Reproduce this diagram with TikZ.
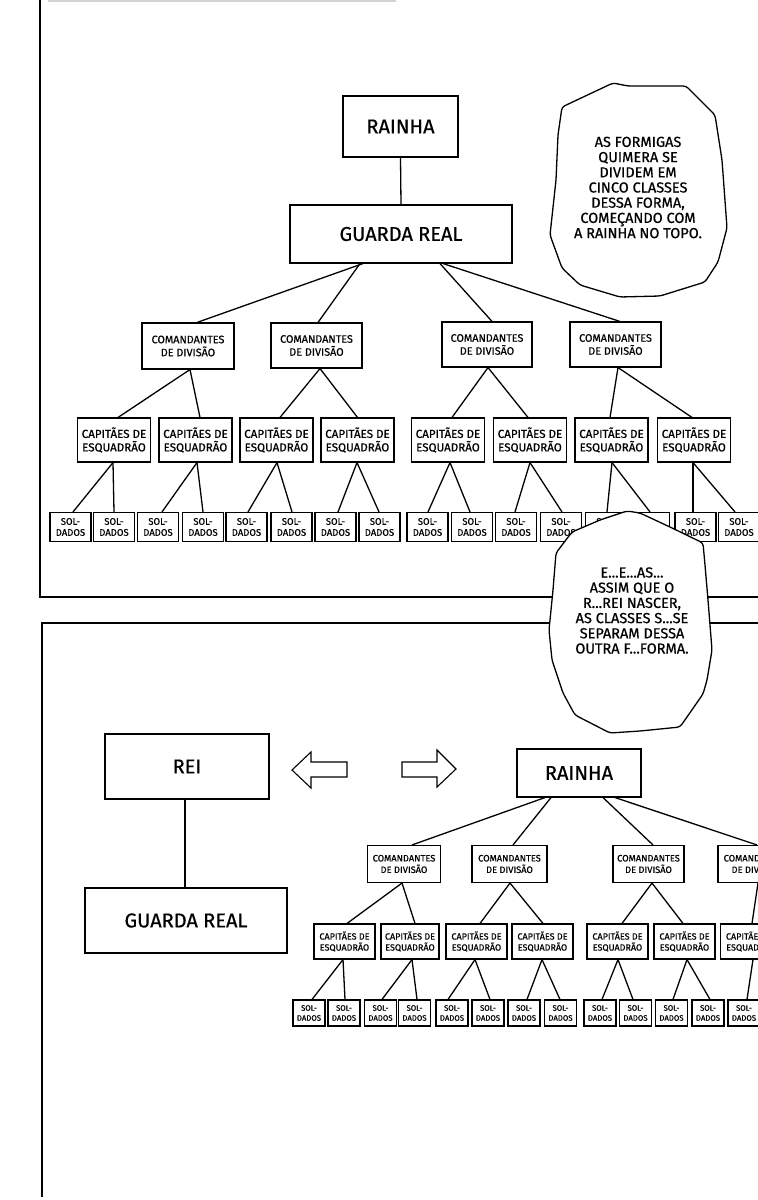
\documentclass[tikz,border=0pt]{standalone}
\usepackage{fontspec}
\setmainfont{Fira Sans}[FakeBold=0.6]
\newcommand\txcmd{COMANDANTES\\DE DIVISÃO}
\newcommand\txcap{CAPITÃES DE\\ESQUADRÃO}
\newcommand\txsol{SOL-\\DADOS}
\begin{document}
\begin{tikzpicture}[x=1pt,y=-1pt,
 bx/.style={draw, line width=1.1pt, inner sep=0pt, align=center, fill=white},
 bigbox/.style={bx, font=\fontsize{20}{24}\selectfont},
 cmdbox/.style={bx, minimum width=91pt, minimum height=45pt, font=\fontsize{10.8}{13}\selectfont},
 capbox/.style={bx, minimum width=73pt, minimum height=44pt, font=\fontsize{11.6}{13.5}\selectfont},
 solbox/.style={bx, minimum width=41pt, minimum height=29pt, font=\fontsize{9.5}{11}\selectfont},
 cmdsm/.style={bx, minimum height=37pt, font=\fontsize{9.3}{11.5}\selectfont},
 capsm/.style={bx, minimum width=61pt, minimum height=35pt, font=\fontsize{9}{11}\selectfont},
 solsm/.style={bx, minimum width=32pt, minimum height=26pt, font=\fontsize{7.8}{10}\selectfont},
 link/.style={line width=1.3pt},
 panel/.style={line width=1.6pt},
 bubble/.style={draw, line width=1.3pt, fill=white, rounded corners=3pt},
 bubtext/.style={align=center, inner sep=0pt, font=\fontsize{14.5}{15.2}\selectfont}
]
\useasboundingbox (0,0) rectangle (758,1200);
\clip (0,0) rectangle (758,1200);
\fill[white] (0,0) rectangle (758,1200);

% panel borders
\draw[gray!35, line width=2pt] (48,1) -- (396,1);
\draw[panel] (40,0) -- (40,597) -- (758,597);
\draw[panel] (758,623) -- (42,623) -- (42,1197);

% ---------- top tree ----------
\node[bigbox, minimum width=115pt, minimum height=61pt] (q) at (400.5,126.5) {RAINHA};
\node[bigbox, minimum width=222pt, minimum height=58pt] (g) at (401,234) {GUARDA REAL};
\draw[link] (q.south) -- (g.north);

\node[cmdbox, minimum width=92pt, minimum height=46pt] (c1) at (188,346) {\txcmd};
\node[cmdbox] (c2) at (316.5,345.5) {\txcmd};
\node[cmdbox, minimum width=90pt] (c3) at (487,344.5) {\txcmd};
\node[cmdbox] (c4) at (615.5,344.5) {\txcmd};

\draw[link] ([xshift=-38pt]g.south) -- ([xshift=9pt]c1.north);
\draw[link] ([xshift=-41pt]g.south) -- ([xshift=1.5pt]c2.north);
\draw[link] ([xshift=39pt]g.south) -- ([xshift=5pt]c3.north);
\draw[link] ([xshift=42pt]g.south) -- ([xshift=4.5pt]c4.north);

\foreach \n/\x in {k1/114,k2/195.5,k3/276.5,k4/357.5,k5/448,k6/530,k7/611.5,k8/694}
  \node[capbox] (\n) at (\x,440) {\txcap};

\draw[link] ([xshift=2pt]c1.south) -- ([xshift=4pt]k1.north);
\draw[link] ([xshift=2pt]c1.south) -- ([xshift=4.5pt]k2.north);
\draw[link] ([xshift=3.5pt]c2.south) -- ([xshift=3.5pt]k3.north);
\draw[link] ([xshift=3.5pt]c2.south) -- (k4.north);
\draw[link] ([xshift=1pt]c3.south) -- ([xshift=4pt]k5.north);
\draw[link] ([xshift=1pt]c3.south) -- ([xshift=-2pt]k6.north);
\draw[link] ([xshift=2.5pt]c4.south) -- ([xshift=-1.5pt]k7.north);
\draw[link] ([xshift=2.5pt]c4.south) -- ([xshift=-2pt]k8.north);

\foreach \n/\x in {s1/70.5,s2/114,s3/158,s4/203,s5/246.5,s6/291.5,s7/335.5,s8/379.5,
  s9/427.5,s10/472,s11/516,s12/561,s13/606,s14/649,s15/695.5,s16/739}
  \node[solbox] (\n) at (\x,527) {\txsol};

\draw[link] ([xshift=-1pt]k1.south) -- ([xshift=2.5pt]s1.north);
\draw[link] ([xshift=-1pt]k1.south) -- (s2.north);
\draw[link] ([xshift=1.5pt]k2.south) -- ([xshift=4pt]s3.north);
\draw[link] ([xshift=1.5pt]k2.south) -- (s4.north);
\draw[link] ([xshift=0.5pt]k3.south) -- ([xshift=1.5pt]s5.north);
\draw[link] ([xshift=0.5pt]k3.south) -- ([xshift=0.5pt]s6.north);
\draw[link] ([xshift=-0.5pt]k4.south) -- ([xshift=2.5pt]s7.north);
\draw[link] ([xshift=-0.5pt]k4.south) -- ([xshift=-0.5pt]s8.north);
\draw[link] ([xshift=2pt]k5.south) -- ([xshift=0.5pt]s9.north);
\draw[link] ([xshift=2pt]k5.south) -- ([xshift=-2pt]s10.north);
\draw[link] (k6.south) -- ([xshift=-1pt]s11.north);
\draw[link] (k6.south) -- ([xshift=1pt]s12.north);
\draw[link] ([xshift=0.5pt]k7.south) -- ([xshift=1pt]s13.north);
\draw[link] ([xshift=0.5pt]k7.south) -- ([xshift=1pt]s14.north);
\draw[link] ([xshift=-1pt]k8.south) -- ([xshift=-2.5pt]s15.north);
\draw[link] ([xshift=-1pt]k8.south) -- ([xshift=-4pt]s16.north);

% ---------- bottom left ----------
\node[bigbox, minimum width=164pt, minimum height=65pt] (rei) at (187,766.5) {REI};
\node[bigbox, minimum width=202pt, minimum height=65pt] (g2) at (186,920.5) {GUARDA REAL};
\draw[link] ([xshift=-2pt]rei.south) -- ([xshift=-1pt]g2.north);

% hollow arrows
\draw[line width=1.1pt, line join=miter] (292,770) -- (311,752) -- (311,762) -- (347,762) -- (347,777) -- (311,777) -- (311,788) -- cycle;
\draw[line width=1.1pt, line join=miter] (456,769) -- (437,750) -- (437,762) -- (402,762) -- (402,777) -- (437,777) -- (437,787) -- cycle;

% ---------- bottom tree ----------
\node[bigbox, minimum width=124pt, minimum height=48pt] (r2) at (579,773) {RAINHA};

\node[cmdsm, minimum width=73pt] (d1) at (404,864) {\txcmd};
\node[cmdsm, minimum width=75pt] (d2) at (509.5,864) {\txcmd};
\node[cmdsm, minimum width=71pt] (d3) at (648.5,864) {\txcmd};
\node[cmdsm, minimum width=74pt] (d4) at (755,864) {\txcmd};

\draw[link] ([xshift=-34pt]r2.south) -- ([xshift=8pt]d1.north);
\draw[link] ([xshift=-28pt]r2.south) -- ([xshift=3.5pt]d2.north);
\draw[link] ([xshift=24pt]r2.south) -- ([xshift=4.5pt]d3.north);
\draw[link] ([xshift=36pt]r2.south) -- ([xshift=2pt]d4.north);

\node[capsm] (e1) at (344.5,941.5) {\txcap};
\node[capsm, minimum width=58pt] (e2) at (410,941.5) {\txcap};
\node[capsm] (e3) at (476.5,941.5) {\txcap};
\node[capsm] (e4) at (542.5,941.5) {\txcap};
\node[capsm] (e5) at (617.5,941.5) {\txcap};
\node[capsm] (e6) at (684.5,941.5) {\txcap};
\node[capsm] (e7) at (751,941.5) {\txcap};

\draw[link] ([xshift=-2pt]d1.south) -- ([xshift=2.5pt]e1.north);
\draw[link] ([xshift=-2pt]d1.south) -- ([xshift=5pt]e2.north);
\draw[link] ([xshift=0.5pt]d2.south) -- ([xshift=3.5pt]e3.north);
\draw[link] ([xshift=0.5pt]d2.south) -- ([xshift=0.5pt]e4.north);
\draw[link] ([xshift=3.5pt]d3.south) -- ([xshift=4.5pt]e5.north);
\draw[link] ([xshift=3.5pt]d3.south) -- ([xshift=-1.5pt]e6.north);
\draw[link] ([xshift=3pt]d4.south) -- ([xshift=1pt]e7.north);

\foreach \n/\x in {t1/309,t2/344,t3/380.5,t4/414.5,t5/452,t6/488,t7/524,t8/560.5,
  t9/600,t10/635.5,t11/671.5,t12/708,t13/744}
  \node[solsm] (\n) at (\x,1013) {\txsol};

\draw[link] ([xshift=-1.5pt]e1.south) -- ([xshift=3pt]t1.north);
\draw[link] ([xshift=-1.5pt]e1.south) -- ([xshift=1pt]t2.north);
\draw[link] ([xshift=2pt]e2.south) -- ([xshift=1.5pt]t3.north);
\draw[link] ([xshift=2pt]e2.south) -- ([xshift=2.5pt]t4.north);
\draw[link] ([xshift=-1.5pt]e3.south) -- ([xshift=-4pt]t5.north);
\draw[link] ([xshift=-1.5pt]e3.south) -- ([xshift=2pt]t6.north);
\draw[link] ([xshift=-0.5pt]e4.south) -- ([xshift=3pt]t7.north);
\draw[link] ([xshift=-0.5pt]e4.south) -- ([xshift=-0.5pt]t8.north);
\draw[link] ([xshift=0.5pt]e5.south) -- ([xshift=2pt]t9.north);
\draw[link] ([xshift=0.5pt]e5.south) -- ([xshift=-2.5pt]t10.north);
\draw[link] ([xshift=2.5pt]e6.south) -- ([xshift=1.5pt]t11.north);
\draw[link] ([xshift=2.5pt]e6.south) -- ([xshift=2pt]t12.north);
\draw[link] ([xshift=2pt]e7.south) -- ([xshift=3pt]t13.north);

% ---------- speech bubbles ----------
\draw[bubble] (562,107) -- (613,83) -- (628,86) -- (686,86) -- (715,115) -- (722,160)
  -- (727,228) -- (718,262) -- (705,282) -- (660,296) -- (620,297) -- (580,285)
  -- (562,268) -- (550,235) -- (556,180) -- (558,135) -- cycle;
\node[bubtext] (b1) at (638,187.5) {AS FORMIGAS\\QUIMERA SE\\DIVIDEM EM\\CINCO CLASSES\\DESSA FORMA,\\COMEÇANDO COM\\A RAINHA NO TOPO.};

\draw[bubble] (556,553) -- (572,532) -- (600,520) -- (627,511) -- (640,513) -- (670,527)
  -- (703,543) -- (705,565) -- (708,600) -- (712,650) -- (707,680) -- (703,694)
  -- (680,727) -- (640,731) -- (610,733) -- (575,715) -- (563,693) -- (552,660)
  -- (549,630) -- (553,590) -- cycle;
\node[bubtext] (b2) at (632,610.5) {E...E...AS...\\ASSIM QUE O\\R...REI NASCER,\\AS CLASSES S...SE\\SEPARAM DESSA\\OUTRA F...FORMA.};
\end{tikzpicture}
\end{document}
